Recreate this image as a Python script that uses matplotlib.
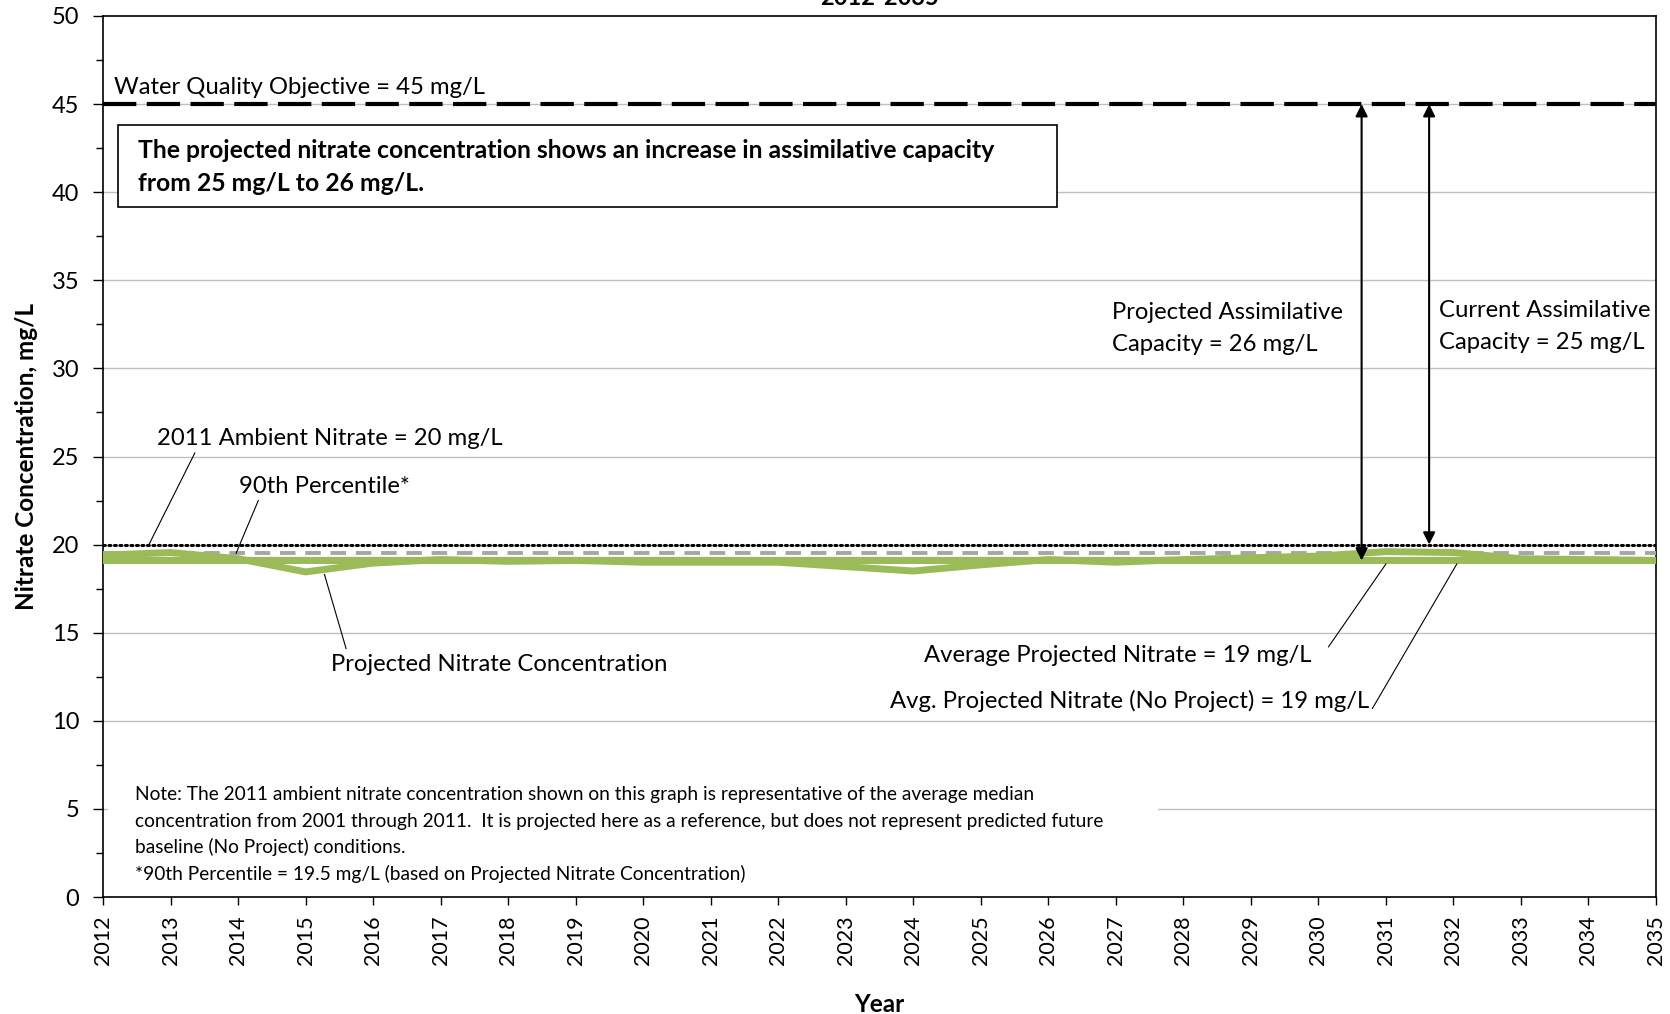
import matplotlib
matplotlib.use("Agg")
import matplotlib.pyplot as plt
from matplotlib.patches import Rectangle
import numpy as np

plt.rcParams['font.family'] = ['Lato', 'DejaVu Sans']

years = list(range(2012, 2036))
projected = [19.4, 19.55, 19.2, 18.45, 18.95, 19.15, 19.05, 19.1, 19.0, 19.0, 19.0, 18.75,
             18.5, 18.85, 19.15, 19.0, 19.15, 19.25, 19.35, 19.6, 19.55, 19.2, 19.15, 19.1]
avg_projected = 19.1
avg_no_project = 19.1
wqo = 45
ambient_2011 = 20
p90 = 19.5
yticks = list(range(0, 55, 5))

fig = plt.figure(figsize=(16.7, 10.14), dpi=100)
ax = fig.add_axes([103/1670, 1-897/1014, (1656-103)/1670, (897-16)/1014])

ax.set_xlim(2012, 2035)
ax.set_ylim(0, 50)
ax.set_yticks(yticks)
ax.set_yticks(np.arange(0, 50.1, 2.5), minor=True)
ax.set_xticks(years)
ax.set_xticklabels([str(y) for y in years], rotation=90)
ax.tick_params(axis='x', labelsize=15.5, direction='out', length=6, width=1, pad=7)
ax.tick_params(axis='y', labelsize=17, direction='out', length=7, width=1, pad=10)
ax.tick_params(axis='y', which='minor', length=5, width=1)
for s in ax.spines.values():
    s.set_linewidth(1.2)
    s.set_color('black')

for v in yticks[1:-1]:
    ax.axhline(v, color='#BFBFBF', lw=1, zorder=0)

# note box background
ax.add_patch(Rectangle((2012.08, 0.6), 15.55, 6.6, facecolor='white', edgecolor='none', zorder=1))

ax.axhline(wqo, color='black', lw=3, ls=(0, (8, 2.5)), zorder=3)
ax.axhline(ambient_2011, color='black', lw=2.2, ls=(0, (0.6, 1.2)), zorder=3, dash_capstyle='round')
ax.axhline(p90, color='#A6A6A6', lw=2.8, ls=(0, (4, 2.5)), zorder=3)
green = '#9BBB59'
ax.plot([2012, 2035], [avg_no_project, avg_no_project], color=green, lw=5, zorder=4)
ax.plot([2012, 2035], [avg_projected, avg_projected], color=green, lw=4.5, zorder=4)
ax.plot(years, projected, color=green, lw=5, zorder=4)

# arrows
ax.annotate('', xy=(2030.64, avg_projected), xytext=(2030.64, wqo),
            arrowprops=dict(arrowstyle='<|-|>', color='black', lw=1.5, mutation_scale=18, shrinkA=0, shrinkB=0), zorder=5)
ax.annotate('', xy=(2031.64, ambient_2011), xytext=(2031.64, wqo),
            arrowprops=dict(arrowstyle='<|-|>', color='black', lw=1.5, mutation_scale=18, shrinkA=0, shrinkB=0), zorder=5)

fs = 17.2
ax.text(2012.16, 45.35, 'Water Quality Objective = 45 mg/L', fontsize=fs, va='bottom', ha='left')
ax.add_patch(Rectangle((2012.22, 39.18), 13.91, 4.65, facecolor='white', edgecolor='black', lw=1.2, zorder=5))
ax.text(2012.52, 42.38, 'The projected nitrate concentration shows an increase in assimilative capacity',
        fontsize=17.8, fontweight='bold', va='center', ha='left', zorder=6)
ax.text(2012.52, 40.5, 'from 25 mg/L to 26 mg/L.', fontsize=17.8, fontweight='bold', va='center', ha='left', zorder=6)

ax.text(2026.95, 33.2, 'Projected Assimilative', fontsize=fs, va='center', ha='left')
ax.text(2026.95, 31.35, 'Capacity = 26 mg/L', fontsize=fs, va='center', ha='left')
ax.text(2031.78, 33.3, 'Current Assimilative', fontsize=fs, va='center', ha='left')
ax.text(2031.78, 31.45, 'Capacity = 25 mg/L', fontsize=fs, va='center', ha='left')

ax.text(2012.8, 26.0, '2011 Ambient Nitrate = 20 mg/L', fontsize=fs, va='center', ha='left')
ax.plot([2013.36, 2012.68], [25.2, 20.0], color='black', lw=0.8, zorder=5)
ax.text(2014.02, 23.3, '90th Percentile*', fontsize=fs, va='center', ha='left')
ax.plot([2014.3, 2013.97], [22.5, 19.5], color='black', lw=0.8, zorder=5)
ax.text(2015.38, 13.2, 'Projected Nitrate Concentration', fontsize=fs, va='center', ha='left')
ax.plot([2015.28, 2015.6], [18.3, 14.1], color='black', lw=0.8, zorder=5)
ax.text(2029.9, 13.7, 'Average Projected Nitrate = 19 mg/L', fontsize=fs, va='center', ha='right')
ax.plot([2030.15, 2031.0], [14.2, 18.9], color='black', lw=0.8, zorder=5)
ax.text(2030.75, 11.1, 'Avg. Projected Nitrate (No Project) = 19 mg/L', fontsize=fs, va='center', ha='right')
ax.plot([2030.8, 2032.05], [10.7, 18.9], color='black', lw=0.8, zorder=5)

nfs = 13.8
note_lines = ['Note: The 2011 ambient nitrate concentration shown on this graph is representative of the average median',
              'concentration from 2001 through 2011.  It is projected here as a reference, but does not represent predicted future',
              'baseline (No Project) conditions.',
              '*90th Percentile = 19.5 mg/L (based on Projected Nitrate Concentration)']
for yv, t in zip([5.8, 4.3, 2.84, 1.33], note_lines):
    ax.text(2012.47, yv, t, fontsize=nfs, va='center', ha='left', zorder=6)

ax.set_ylabel('Nitrate Concentration, mg/L', fontsize=17.5, fontweight='bold', labelpad=10)
ax.set_xlabel('Year', fontsize=17.5, fontweight='bold', labelpad=20)
fig.text(879.5/1670, 1-5/1014, '2012-2035', fontsize=17, fontweight='bold', ha='center', va='baseline')

fig.savefig('out.png', dpi=100)
